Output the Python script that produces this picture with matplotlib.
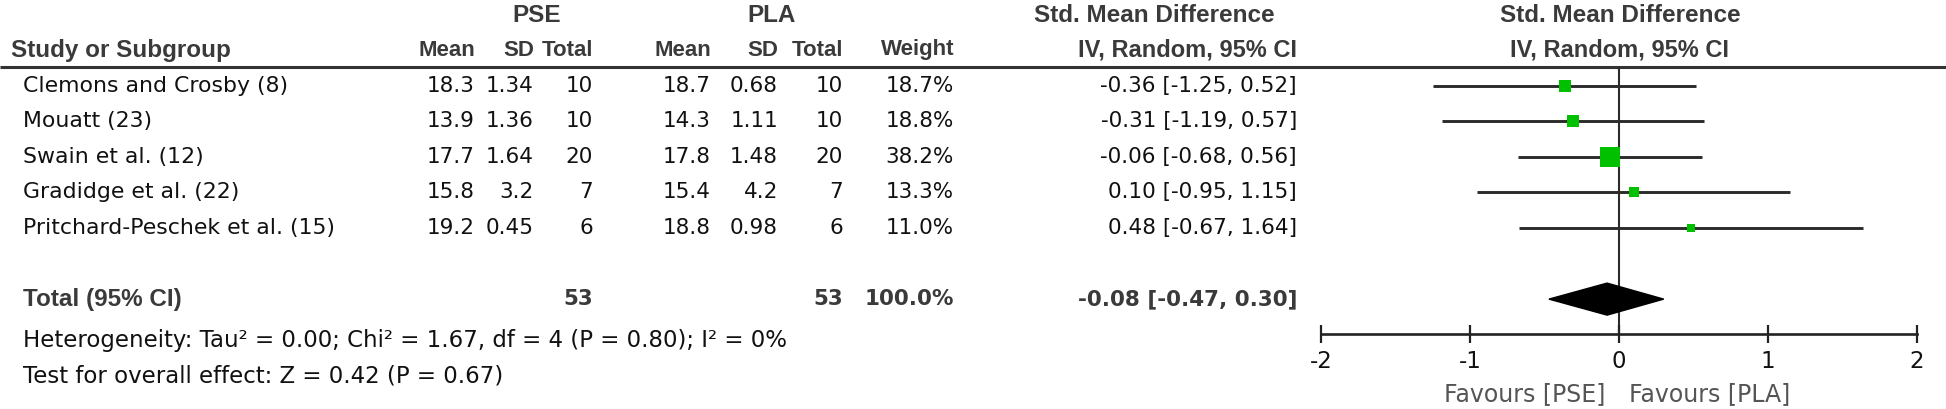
import matplotlib
matplotlib.use("Agg")
import matplotlib.pyplot as plt
from matplotlib import font_manager
from matplotlib.patches import Polygon
from matplotlib.transforms import blended_transform_factory

# ---------------- data ----------------
studies = ["Clemons and Crosby (8)", "Mouatt (23)", "Swain et al. (12)",
           "Gradidge et al. (22)", "Pritchard-Peschek et al. (15)"]
pse_mean = [18.3, 13.9, 17.7, 15.8, 19.2]
pse_sd = [1.34, 1.36, 1.64, 3.2, 0.45]
pse_n = [10, 10, 20, 7, 6]
pla_mean = [18.7, 14.3, 17.8, 15.4, 18.8]
pla_sd = [0.68, 1.11, 1.48, 4.2, 0.98]
pla_n = [10, 10, 20, 7, 6]
weights = [18.7, 18.8, 38.2, 13.3, 11.0]
smd = [-0.36, -0.31, -0.06, 0.10, 0.48]
ci_low = [-1.25, -1.19, -0.68, -0.95, -0.67]
ci_high = [0.52, 0.57, 0.56, 1.15, 1.64]
total_pse_n = 53
total_pla_n = 53
total_weight = 100.0
total_smd = -0.08
total_low = -0.47
total_high = 0.30
heterogeneity = "Heterogeneity: Tau² = 0.00; Chi² = 1.67, df = 4 (P = 0.80); I² = 0%"
overall_effect = "Test for overall effect: Z = 0.42 (P = 0.67)"
x_ticks = [-2, -1, 0, 1, 2]
favours_left = "Favours [PSE]"
favours_right = "Favours [PLA]"

# ---------------- styles ----------------
def font_exists(name):
    try:
        font_manager.findfont(font_manager.FontProperties(family=name), fallback_to_default=False)
        return True
    except Exception:
        return False

FAM = "DejaVu Sans"
if font_exists("Liberation Sans Narrow"):
    HFAM, H_BIG, H_MID, H_SMALL = "Liberation Sans Narrow", 20.5, 20, 19
else:
    HFAM, H_BIG, H_MID, H_SMALL = "Liberation Sans", 17.5, 17, 16
HEAD = dict(family=HFAM, fontweight="bold", fontsize=H_BIG)
HEAD_M = dict(family=HFAM, fontweight="bold", fontsize=H_MID)
HEAD_S = dict(family=HFAM, fontweight="bold", fontsize=H_SMALL)
NAME = dict(family=FAM, fontsize=15.8)
NUM = dict(family=FAM, fontsize=15.5)
NOTE = dict(family=FAM, fontsize=16.5)
HEAD_C = "#3a3a3a"
BODY_C = "#111111"

W, H = 1946, 409
fig = plt.figure(figsize=(W / 100, H / 100), dpi=100)
fig.patch.set_facecolor("white")

# table canvas in pixel units
ax_t = fig.add_axes([0, 0, 1, 1])
ax_t.set_xlim(0, W)
ax_t.set_ylim(H, 0)
ax_t.axis("off")

# forest panel
ax_left, ax_right = 1321, 1917
ax_top, ax_bot = 67, 334
ax_f = fig.add_axes([ax_left / W, 1 - ax_bot / H, (ax_right - ax_left) / W, (ax_bot - ax_top) / H])
ax_f.set_facecolor("none")
n = len(studies)
total_row = n + 1
ax_f.set_xlim(-2, 2)
ax_f.set_ylim(total_row + 0.98, -0.52)

row_tr = blended_transform_factory(ax_t.transData, ax_f.transData)
fav_tr = blended_transform_factory(ax_f.transData, ax_t.transData)

# ---- headers ----
hy1, hy2 = 16, 50
ax_t.text(537, hy1, "PSE", ha="center", va="center", color=HEAD_C, **HEAD)
ax_t.text(772, hy1, "PLA", ha="center", va="center", color=HEAD_C, **HEAD)
ax_t.text(1154, hy1, "Std. Mean Difference", ha="center", va="center", color=HEAD_C, **HEAD)
ax_t.text(1620, hy1, "Std. Mean Difference", ha="center", va="center", color=HEAD_C, **HEAD)

col_right = {"pm": 475, "ps": 534, "pn": 593, "lm": 711, "ls": 778, "ln": 843, "w": 954, "ci": 1297}
ax_t.text(11, hy2, "Study or Subgroup", ha="left", va="center", color=HEAD_C, **HEAD)
for key, lab in [("pm", "Mean"), ("ps", "SD"), ("pn", "Total"), ("lm", "Mean"),
                 ("ls", "SD"), ("ln", "Total"), ("w", "Weight")]:
    ax_t.text(col_right[key], hy2, lab, ha="right", va="center", color=HEAD_C, **HEAD_S)
ax_t.text(col_right["ci"], hy2, "IV, Random, 95% CI", ha="right", va="center", color=HEAD_C, **HEAD_M)
ax_t.text(1620, hy2, "IV, Random, 95% CI", ha="center", va="center", color=HEAD_C, **HEAD_M)

ax_t.plot([0, W], [67, 67], color="#333333", lw=2.2, solid_capstyle="butt")

# ---- study rows ----
for i in range(n):
    vals = {"pm": f"{pse_mean[i]:g}", "ps": f"{pse_sd[i]:g}", "pn": f"{pse_n[i]}",
            "lm": f"{pla_mean[i]:g}", "ls": f"{pla_sd[i]:g}", "ln": f"{pla_n[i]}",
            "w": f"{weights[i]:.1f}%",
            "ci": f"{smd[i]:.2f} [{ci_low[i]:.2f}, {ci_high[i]:.2f}]"}
    ax_t.text(23, i, studies[i], ha="left", va="center", color=BODY_C, transform=row_tr, **NAME)
    for key, s in vals.items():
        ax_t.text(col_right[key], i, s, ha="right", va="center", color=BODY_C, transform=row_tr, **NUM)

# ---- total row ----
ax_t.text(23, total_row, "Total (95% CI)", ha="left", va="center", color=HEAD_C, transform=row_tr, **HEAD)
bold_num = dict(NUM, fontweight="bold")
ax_t.text(col_right["pn"], total_row, f"{total_pse_n}", ha="right", va="center", color=HEAD_C, transform=row_tr, **bold_num)
ax_t.text(col_right["ln"], total_row, f"{total_pla_n}", ha="right", va="center", color=HEAD_C, transform=row_tr, **bold_num)
ax_t.text(col_right["w"], total_row, f"{total_weight:.1f}%", ha="right", va="center", color=HEAD_C, transform=row_tr, **bold_num)
ax_t.text(col_right["ci"], total_row, f"{total_smd:.2f} [{total_low:.2f}, {total_high:.2f}]",
          ha="right", va="center", color=HEAD_C, transform=row_tr, **bold_num)

ax_t.text(23, 341, heterogeneity, ha="left", va="center", color=BODY_C, **NOTE)
ax_t.text(23, 376, overall_effect, ha="left", va="center", color=BODY_C, **NOTE)

# ---- forest ----
ax_f.axvline(0, color="#2b2b2b", lw=1.5, zorder=1)
for i in range(n):
    ax_f.plot([ci_low[i], ci_high[i]], [i, i], color="#2b2b2b", lw=2.1, solid_capstyle="butt", zorder=2)
    side_px = 3.5 + 0.42 * weights[i]
    ax_f.plot([smd[i]], [i], marker="s", ms=side_px * 72 / 100, color="#00c000",
              markeredgewidth=0, linestyle="none", zorder=3)

dh = 0.45
diamond = Polygon([(total_low, total_row), (total_smd, total_row - dh),
                   (total_high, total_row), (total_smd, total_row + dh)],
                  closed=True, facecolor="black", edgecolor="black", lw=1, zorder=4)
ax_f.add_patch(diamond)

for side in ["top", "right", "left"]:
    ax_f.spines[side].set_visible(False)
ax_f.spines["bottom"].set_linewidth(1.9)
ax_f.spines["bottom"].set_color("#222222")
ax_f.set_yticks([])
ax_f.set_xticks(x_ticks)
ax_f.set_xticklabels([str(t) for t in x_ticks])
ax_f.tick_params(axis="x", direction="inout", length=13, width=1.6, color="#222222", pad=5,
                 labelsize=16.5, labelcolor=BODY_C)
for lab in ax_f.get_xticklabels():
    lab.set_family(FAM)

ax_t.text(-0.09, 394, favours_left, ha="right", va="center", color="#555555", transform=fav_tr,
          family=FAM, fontsize=17)
ax_t.text(0.07, 394, favours_right, ha="left", va="center", color="#555555", transform=fav_tr,
          family=FAM, fontsize=17)

fig.savefig("out.png", dpi=100, facecolor="white")
